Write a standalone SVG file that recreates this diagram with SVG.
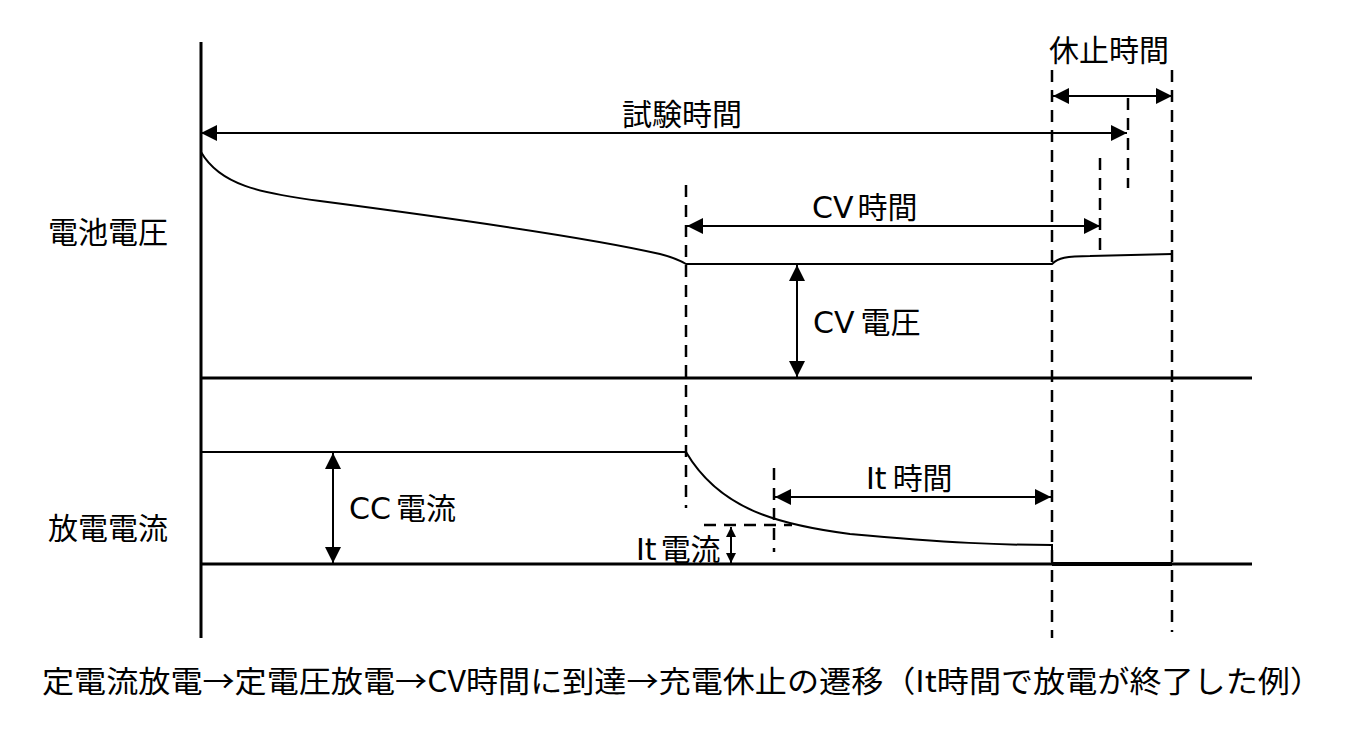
<svg xmlns="http://www.w3.org/2000/svg" width="1360" height="738" viewBox="0 0 1360 738">
<style>
text{font-family:"Noto Sans CJK JP","Noto Sans",sans-serif;font-size:30px;fill:#000}
.lat{font-family:"DejaVu Sans","Noto Sans CJK JP",sans-serif}
.ax{stroke:#000;stroke-width:3;fill:none}
.cv{stroke:#000;stroke-width:2;fill:none}
.ar{stroke:#000;stroke-width:2;fill:none;marker-start:url(#ah);marker-end:url(#ah)}
.ars{stroke:#000;stroke-width:2;fill:none;marker-start:url(#ahs);marker-end:url(#ahs)}
.ds{stroke:#000;stroke-width:2.5;fill:none;stroke-dasharray:12 8}
</style>
<defs>
<marker id="ah" markerUnits="userSpaceOnUse" markerWidth="16" markerHeight="16" refX="16" refY="8" orient="auto-start-reverse"><path d="M0,0 L16,8 L0,16 Z" fill="#000"/></marker>
<marker id="ahs" markerUnits="userSpaceOnUse" markerWidth="10" markerHeight="10" refX="10" refY="5" orient="auto-start-reverse"><path d="M0,0 L10,5 L0,10 Z" fill="#000"/></marker>
</defs>
<g id="axes">
<line class="ax" x1="201" y1="42" x2="201" y2="638"/>
<line class="ax" x1="201" y1="378" x2="1252" y2="378"/>
<line class="ax" x1="201" y1="564" x2="1252" y2="564"/>
</g>
<g id="voltage-curve">
<path class="cv" d="M201,152 C220,185 260,193 320,201 C450,218 600,240 660,254 Q676,258 686,264 L1052,264 C1058,258 1066,256 1090,256 L1172,254"/>
</g>
<g id="current-curve">
<path class="cv" d="M201,452 L686,452 C720,510 780,525 850,534 C950,543 1000,545 1052,545 L1052,564"/>
<line stroke="#000" stroke-width="4" x1="1052" y1="564" x2="1172" y2="564"/>
</g>
<g id="guides">
<line class="ds" x1="686" y1="185" x2="686" y2="508"/>
<line class="ds" x1="1052" y1="70" x2="1052" y2="638"/>
<line class="ds" x1="1172" y1="70" x2="1172" y2="632"/>
<line class="ds" x1="1128" y1="98" x2="1128" y2="188"/>
<line class="ds" x1="1100" y1="158" x2="1100" y2="252"/>
<line class="ds" x1="774" y1="468" x2="774" y2="552"/>
<line class="ds" x1="704" y1="525" x2="792" y2="525"/>
</g>
<g id="connectors">
<line class="ar" x1="201" y1="133" x2="1127" y2="133"/>
<line class="ar" x1="1053" y1="96" x2="1172" y2="96"/>
<line class="ar" x1="687" y1="226" x2="1100" y2="226"/>
<line class="ar" x1="797" y1="265" x2="797" y2="377"/>
<line class="ar" x1="333" y1="453" x2="333" y2="563"/>
<line class="ar" x1="775" y1="497" x2="1051" y2="497"/>
<line class="ars" x1="731" y1="527" x2="731" y2="563"/>
</g>
<g id="labels">
<text x="48" y="243">電池電圧</text>
<text x="48" y="539">放電電流</text>
<text x="622" y="125">試験時間</text>
<text x="1049" y="61">休止時間</text>
<text x="812" y="218"><tspan class="lat">CV</tspan><tspan dx="4">時間</tspan></text>
<text x="813" y="333"><tspan class="lat">CV</tspan><tspan dx="6">電圧</tspan></text>
<text x="349" y="519"><tspan class="lat">CC</tspan><tspan dx="5">電流</tspan></text>
<text x="866" y="489"><tspan class="lat">It</tspan><tspan dx="6">時間</tspan></text>
<text x="636" y="560"><tspan class="lat">It</tspan><tspan dx="4">電流</tspan></text>
<text x="42" y="692" textLength="1280" lengthAdjust="spacingAndGlyphs">定電流放電→定電圧放電→CV時間に到達→充電休止の遷移（It時間で放電が終了した例）</text>
</g>
</svg>
